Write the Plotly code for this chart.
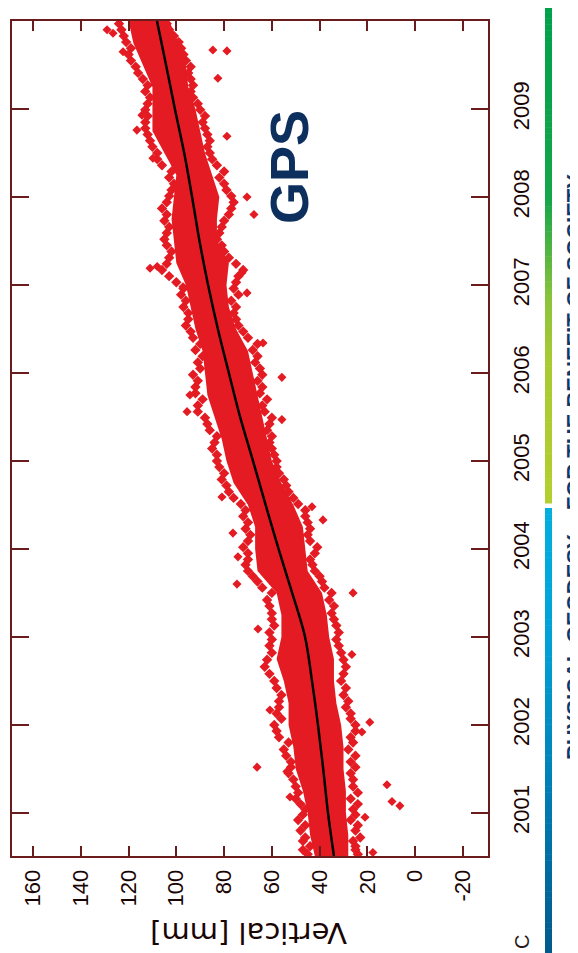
import plotly.graph_objects as go

# ---------------- data ----------------
# smooth trend (black line): decimal year -> vertical [mm]
trend_year = [2000.51, 2001.0, 2001.5, 2002.0, 2002.5, 2003.0, 2003.5, 2004.0, 2004.5,
              2005.0, 2005.5, 2006.0, 2006.5, 2007.0, 2007.5, 2008.0, 2008.5, 2009.0,
              2009.5, 2010.0]
trend_mm = [34.0, 36.5, 38.5, 40.7, 43.2, 46.1, 51.5, 57.2, 62.6,
            67.9, 73.3, 78.0, 82.6, 86.7, 90.3, 93.4, 96.7, 100.6,
            104.3, 108.1]

# dense core of the daily GPS solutions (lower / upper bound)
band_year = [2000.51, 2000.75, 2001.0, 2001.25, 2001.5, 2001.75, 2002.0, 2002.25, 2002.5,
             2002.75, 2003.0, 2003.25, 2003.5, 2003.75, 2004.0, 2004.25, 2004.5, 2004.75,
             2005.0, 2005.25, 2005.5, 2005.75, 2006.0, 2006.25, 2006.5, 2006.75, 2007.0,
             2007.25, 2007.5, 2007.75, 2008.0, 2008.25, 2008.5, 2008.75, 2009.0, 2009.25,
             2009.5, 2009.75, 2010.0]
band_lo = [28, 28, 29, 29, 30, 30, 31, 33, 34,
           34, 36, 37, 39, 45, 46, 47, 51, 56,
           60, 62, 64, 66, 68, 70, 75, 78, 79,
           78, 83, 83, 82, 85, 88, 90, 92, 95,
           96, 99, 103]
band_hi = [42, 44, 45, 47, 50, 51, 53, 53, 55,
           58, 56, 56, 58, 66, 67, 67, 70, 76,
           79, 81, 84, 87, 88, 89, 92, 94, 96,
           100, 101, 102, 101, 100, 105, 110, 110, 110,
           114, 118, 120]

# ragged edge of the point cloud: year, low-side value, high-side value
edge_year = [2000.53, 2000.58, 2000.62, 2000.68, 2000.72, 2000.80, 2000.86, 2000.92, 2000.98,
             2001.04, 2001.10, 2001.16, 2001.23, 2001.30, 2001.38, 2001.45, 2001.52, 2001.58,
             2001.65, 2001.72, 2001.80, 2001.86, 2001.93, 2002.00, 2002.07, 2002.13, 2002.20,
             2002.27, 2002.34, 2002.42, 2002.50, 2002.58, 2002.66, 2002.74, 2002.82, 2002.90,
             2002.97, 2003.05, 2003.13, 2003.20, 2003.27, 2003.35, 2003.42, 2003.50, 2003.56,
             2003.63, 2003.69, 2003.75, 2003.82, 2003.88, 2003.95, 2004.02, 2004.09, 2004.16,
             2004.23, 2004.30, 2004.37, 2004.44, 2004.51, 2004.58, 2004.65, 2004.72, 2004.79,
             2004.86, 2004.93, 2005.00, 2005.07, 2005.14, 2005.21, 2005.28, 2005.35, 2005.42,
             2005.49, 2005.56, 2005.63, 2005.70, 2005.77, 2005.84, 2005.91, 2005.98, 2006.05,
             2006.12, 2006.19, 2006.26, 2006.33, 2006.40, 2006.47, 2006.54, 2006.61, 2006.68,
             2006.75, 2006.82, 2006.89, 2006.96, 2007.03, 2007.10, 2007.17, 2007.24, 2007.31,
             2007.38, 2007.45, 2007.52, 2007.59, 2007.66, 2007.73, 2007.80, 2007.87, 2007.94,
             2008.01, 2008.08, 2008.15, 2008.22, 2008.29, 2008.36, 2008.43, 2008.50, 2008.57,
             2008.64, 2008.71, 2008.78, 2008.85, 2008.92, 2008.99, 2009.06, 2009.13, 2009.20,
             2009.27, 2009.34, 2009.41, 2009.48, 2009.55, 2009.62, 2009.69, 2009.76, 2009.83,
             2009.90, 2009.97]
edge_lo = [24, 25, 25, 26, 23, 25, 24, 27, 25,
           26, 24, 27, 24, 26, 26, 27, 25, 27,
           25, 28, 26, 27, 25, 25, 27, 27, 29,
           28, 30, 29, 31, 30, 29, 30, 31, 32,
           33, 32, 33, 34, 35, 34, 36, 35, 38,
           39, 40, 42, 43, 44, 42, 41, 44, 45,
           44, 45, 46, 46, 49, 51, 53, 54, 55,
           57, 58, 58, 59, 60, 61, 60, 62, 61,
           60, 63, 64, 62, 65, 64, 66, 64, 65,
           67, 66, 68, 66, 70, 72, 74, 75, 76,
           75, 77, 74, 76, 75, 74, 72, 75, 78,
           80, 81, 83, 82, 81, 80, 78, 77, 76,
           77, 79, 80, 82, 80, 83, 85, 86, 87,
           86, 87, 88, 89, 88, 90, 91, 93, 94,
           93, 94, 95, 94, 96, 97, 98, 99, 101,
           103, 104]
edge_hi = [45, 47, 44, 47, 46, 48, 46, 49, 47,
           46, 48, 50, 49, 50, 51, 53, 52, 52,
           54, 55, 53, 57, 58, 59, 56, 58, 57,
           57, 56, 58, 59, 61, 63, 62, 60, 61,
           60, 61, 59, 60, 60, 61, 62, 60, 64,
           66, 68, 70, 71, 70, 70, 72, 70, 69,
           71, 70, 72, 71, 73, 76, 78, 79, 81,
           80, 82, 83, 83, 85, 84, 83, 86, 87,
           88, 91, 91, 89, 92, 92, 91, 93, 90,
           91, 89, 92, 90, 93, 94, 96, 95, 95,
           97, 96, 98, 97, 100, 103, 106, 104, 103,
           102, 104, 105, 104, 103, 105, 104, 106, 104,
           103, 102, 101, 103, 102, 106, 108, 108, 110,
           111, 112, 113, 113, 112, 113, 112, 111, 113,
           112, 114, 116, 117, 119, 120, 119, 121, 122,
           123, 124]

# isolated outliers
out_year = [2000.55, 2000.95, 2001.08, 2001.13, 2001.18, 2001.32, 2001.47, 2001.52, 2001.92,
            2002.03, 2002.17, 2002.80, 2003.09, 2003.50, 2003.60, 2003.91, 2004.18, 2004.33,
            2004.48, 2004.59, 2005.47, 2005.56, 2005.75, 2005.95, 2006.34, 2006.91, 2006.98,
            2007.14, 2007.19, 2007.21, 2007.80, 2008.00, 2008.44, 2008.69, 2008.76, 2008.93,
            2009.35, 2009.65, 2009.67, 2009.66, 2009.86, 2009.90]
out_mm = [17.7, 21.0, 6.4, 9.7, 52.4, 11.8, 53.7, 66.2, 22.3,
          19.0, 60.8, 26.5, 65.8, 26.0, 74.6, 74.2, 76.3, 38.6,
          43.2, 80.9, 55.8, 95.5, 94.3, 55.8, 63.7, 70.4, 97.2,
          72.5, 111.0, 108.0, 67.5, 70.4, 109.8, 78.8, 116.5, 114.4,
          82.6, 122.3, 84.7, 78.8, 126.5, 129.0]

year_ticks = [2001, 2002, 2003, 2004, 2005, 2006, 2007, 2008, 2009, 2010]
mm_ticks = [160, 140, 120, 100, 80, 60, 40, 20, 0, -20]

# ---------------- figure ----------------
RED = "#e41b23"
FRAME = "#6a1c1c"
TXT = "#1a0505"

fig = go.Figure()

fig.add_trace(go.Scatter(
    x=band_hi + band_lo[::-1], y=band_year + band_year[::-1],
    fill="toself", fillcolor=RED, mode="lines", line=dict(width=0, color=RED),
    hoverinfo="skip", showlegend=False))

fig.add_trace(go.Scatter(
    x=edge_lo + edge_hi, y=edge_year + edge_year, mode="markers",
    marker=dict(symbol="diamond", size=8, color=RED), showlegend=False))

fig.add_trace(go.Scatter(
    x=out_mm, y=out_year, mode="markers",
    marker=dict(symbol="diamond", size=7, color=RED), showlegend=False))

fig.add_trace(go.Scatter(
    x=trend_mm, y=trend_year, mode="lines", line=dict(color="black", width=2.5, shape="spline"),
    showlegend=False))

fig.update_xaxes(
    range=[168.8, -30.5], tickvals=mm_ticks, ticktext=[str(v) for v in mm_ticks],
    tickangle=-90, ticks="inside", ticklen=10, tickwidth=2, tickcolor=FRAME,
    showline=True, linecolor=FRAME, linewidth=2, mirror="ticks", showgrid=False,
    zeroline=False, automargin=False,
    tickfont=dict(family="Liberation Sans, Arial", size=22, color=TXT),
    ticklabelstandoff=3)

fig.update_yaxes(
    range=[2000.51, 2010.0], tickvals=year_ticks, ticktext=[str(v) for v in year_ticks],
    side="right", tickangle=-90, ticks="inside", ticklen=17, tickwidth=2, tickcolor=FRAME,
    showline=True, linecolor=FRAME, linewidth=2, mirror="ticks", showgrid=False,
    zeroline=False, automargin=False,
    tickfont=dict(family="Liberation Sans, Arial", size=22, color=TXT),
    ticklabelstandoff=13)

# the page body adds an 8 px offset; the figure is sized so it fits the window
OFF = 8
W, H = 578 - OFF, 953 - OFF
L, T = 12 - OFF, 21 - OFF
R, B = W - (488 - OFF), H - (856 - OFF)
pw, ph = W - L - R, H - T - B


def px(xp):
    return (xp - OFF - L) / pw


def py(yp):
    return (H - B - (yp - OFF)) / ph


annotations = [
    dict(text="<b>GPS</b>", x=px(289), y=py(167), xref="paper", yref="paper", showarrow=False,
         textangle=-90, font=dict(family="Liberation Sans, Arial", size=54, color="#0d2f5e"),
         xanchor="center", yanchor="middle"),
    dict(text="Vertical [mm]", x=px(249), y=py(933), xref="paper", yref="paper",
         showarrow=False, textangle=180,
         font=dict(family="DejaVu Sans", size=29, color=TXT),
         xanchor="center", yanchor="middle"),
    dict(text="<b>PHYSICAL GEODESY – FOR THE BENEFIT OF SOCIETY</b>", x=px(574), y=py(467),
         xref="paper", yref="paper", showarrow=False, textangle=-90,
         font=dict(family="Liberation Sans, Arial", size=22, color="#0d3a6e"),
         xanchor="center", yanchor="middle"),
    dict(text="C", x=px(522), y=py(942), xref="paper", yref="paper", showarrow=False,
         textangle=-90, font=dict(family="Liberation Sans, Arial", size=20, color="#2a1a1a"),
         xanchor="center", yanchor="middle"),
]

# decorative colour bar on the right edge (slide footer)
stops = [(0, (0, 161, 75)), (200, (22, 166, 74)), (300, (140, 196, 60)),
         (360, (168, 202, 52)), (503, (180, 207, 47))]
stops2 = [(508, (0, 176, 224)), (650, (0, 160, 214)), (780, (0, 128, 184)),
          (953, (0, 90, 140))]


def seg_shapes(st):
    out = []
    for (y0, c0), (y1, c1) in zip(st[:-1], st[1:]):
        n = max(1, int((y1 - y0) / 6))
        for i in range(n):
            a = y0 + (y1 - y0) * i / n
            b = y0 + (y1 - y0) * (i + 1) / n
            t = (i + 0.5) / n
            c = tuple(int(c0[k] + (c1[k] - c0[k]) * t) for k in range(3))
            out.append(dict(type="rect", xref="paper", yref="paper",
                            x0=px(545), x1=px(552), y0=py(b + 0.5), y1=py(a),
                            fillcolor="rgb(%d,%d,%d)" % c, line=dict(width=0), layer="above"))
    return out


shapes = seg_shapes(stops) + seg_shapes(stops2)

fig.update_layout(
    width=W, height=H, margin=dict(l=L, r=R, t=T, b=B),
    paper_bgcolor="white", plot_bgcolor="white",
    annotations=annotations, shapes=shapes, showlegend=False)

fig.write_html("out.html")
